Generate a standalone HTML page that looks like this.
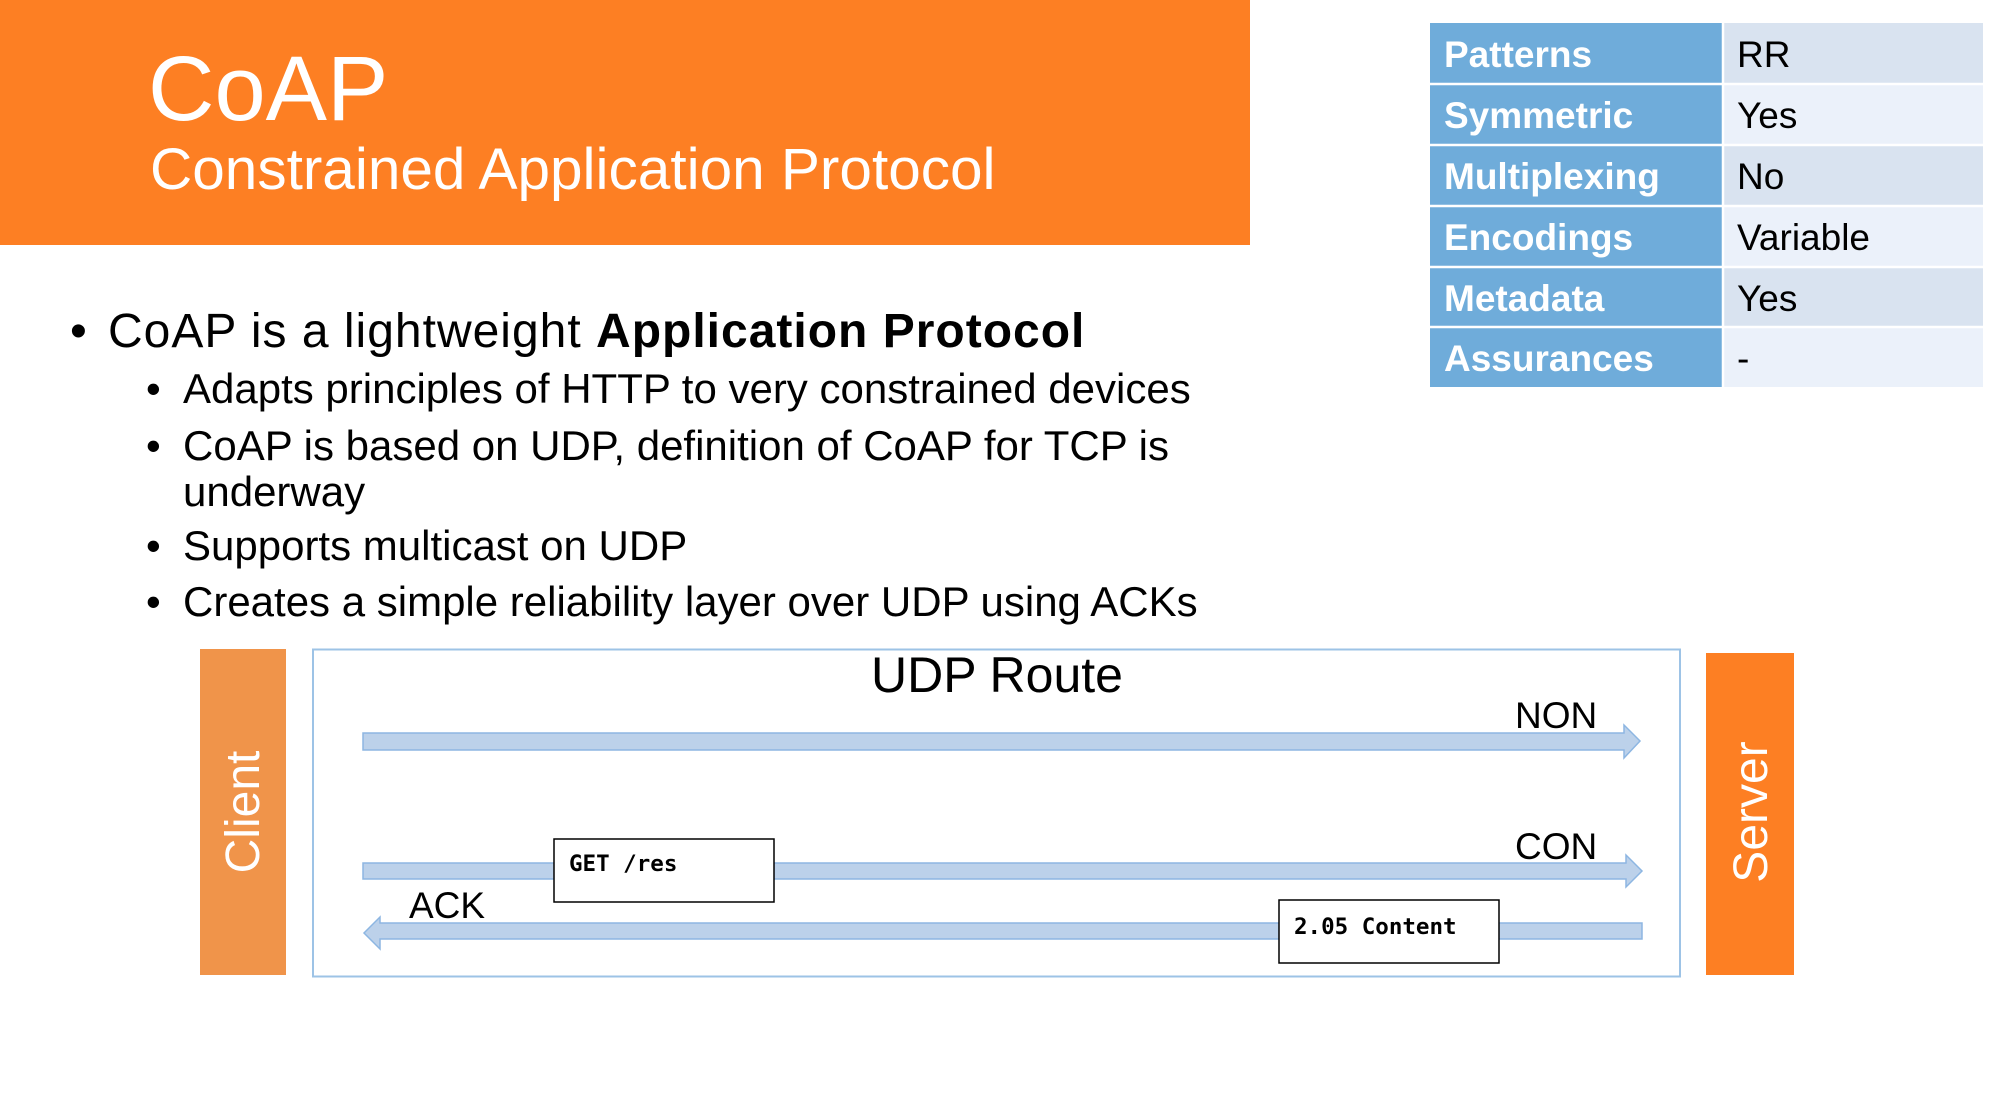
<!DOCTYPE html>
<html><head><meta charset="utf-8"><style>
html,body{margin:0;padding:0;background:#fff;}
body{width:1999px;height:1114px;position:relative;overflow:hidden;font-family:"Liberation Sans",Arial,sans-serif;}
.a{position:absolute;white-space:nowrap;line-height:1;}
</style></head><body>
<div class="a" style="left:0;top:0;width:1250px;height:245px;background:#FD7F23;"></div>
<div class="a" style="left:148px;top:43px;font-size:92px;color:#fff;">CoAP</div>
<div class="a" style="left:150px;top:141px;font-size:58.5px;color:#fff;">Constrained Application Protocol</div>

<div class="a" style="left:70px;top:308px;font-size:48px;">•</div>
<div class="a" style="left:108px;top:308px;font-size:48px;letter-spacing:1px;">CoAP is a lightweight <b>Application Protocol</b></div>
<div class="a" style="left:146px;top:368px;font-size:42px;">•</div>
<div class="a" style="left:183px;top:368px;font-size:42px;">Adapts principles of HTTP to very constrained devices</div>
<div class="a" style="left:146px;top:425px;font-size:42px;">•</div>
<div class="a" style="left:183px;top:425px;font-size:42px;">CoAP is based on UDP, definition of CoAP for TCP is</div>
<div class="a" style="left:183px;top:471px;font-size:42px;">underway</div>
<div class="a" style="left:146px;top:525px;font-size:42px;">•</div>
<div class="a" style="left:183px;top:525px;font-size:42px;">Supports multicast on UDP</div>
<div class="a" style="left:146px;top:581px;font-size:42px;">•</div>
<div class="a" style="left:183px;top:581px;font-size:42px;">Creates a simple reliability layer over UDP using ACKs</div>

<svg class="a" style="left:1430px;top:23px;" width="553" height="364">
<g font-family="Liberation Sans, Arial, sans-serif" font-size="37">
<rect x="0" y="0" width="294" height="364" fill="#6FACDA"/>
<rect x="294" y="0" width="264" height="61" fill="#D9E3F0"/>
<rect x="294" y="61" width="264" height="61" fill="#EBF1FA"/>
<rect x="294" y="122" width="264" height="61" fill="#D9E3F0"/>
<rect x="294" y="183" width="264" height="61" fill="#EBF1FA"/>
<rect x="294" y="244" width="264" height="60" fill="#D9E3F0"/>
<rect x="294" y="304" width="264" height="60" fill="#EBF1FA"/>
<g stroke="#fff" stroke-width="2.5"><line x1="293" y1="0" x2="293" y2="364"/>
<line x1="0" y1="61" x2="558" y2="61"/><line x1="0" y1="122" x2="558" y2="122"/><line x1="0" y1="183" x2="558" y2="183"/><line x1="0" y1="244" x2="558" y2="244"/><line x1="0" y1="304" x2="558" y2="304"/></g>
<g fill="#fff" font-weight="bold">
<text x="14" y="44">Patterns</text><text x="14" y="105">Symmetric</text><text x="14" y="166">Multiplexing</text><text x="14" y="227">Encodings</text><text x="14" y="288">Metadata</text><text x="14" y="348">Assurances</text></g>
<g fill="#000">
<text x="307" y="44">RR</text><text x="307" y="105">Yes</text><text x="307" y="166">No</text><text x="307" y="227">Variable</text><text x="307" y="288">Yes</text><text x="307" y="348">-</text></g>
</g></svg>

<svg class="a" style="left:0;top:0;" width="1999" height="1114">
<rect x="200" y="649" width="86" height="326" fill="#F0944A"/>
<rect x="1706" y="653" width="88" height="322" fill="#FD7F23"/>
<text transform="translate(259,812) rotate(-90)" text-anchor="middle" font-family="Liberation Sans, Arial, sans-serif" font-size="48" fill="#fff">Client</text>
<text transform="translate(1767,812) rotate(-90)" text-anchor="middle" font-family="Liberation Sans, Arial, sans-serif" font-size="48" fill="#fff">Server</text>
<rect x="313" y="649.5" width="1367" height="327" fill="none" stroke="#9DC3E6" stroke-width="2"/>
<g font-family="Liberation Sans, Arial, sans-serif" fill="#000">
<text x="997" y="692" text-anchor="middle" font-size="50">UDP Route</text>
<text x="1515" y="728" font-size="37">NON</text>
<text x="1515" y="859" font-size="37">CON</text>
<text x="409" y="918" font-size="37">ACK</text>
</g>
<g fill="#BCD1EA" stroke="#8DB6E2" stroke-width="1.5">
<polygon points="363,733 1624,733 1624,725 1640,741 1624,758 1624,750 363,750"/>
<polygon points="363,863 1626,863 1626,855 1642,871 1626,887 1626,879 363,879"/>
<polygon points="1642,923 380,923 380,917 364,933 380,949 380,939 1642,939"/>
</g>
<rect x="554" y="839" width="220" height="63" fill="#fff" stroke="#000" stroke-width="1.5"/>
<rect x="1279" y="900" width="220" height="63" fill="#fff" stroke="#000" stroke-width="1.5"/>
<g font-family="DejaVu Sans Mono, Liberation Mono, monospace" font-weight="bold" font-size="22.5" fill="#000">
<text x="569" y="871">GET /res</text>
<text x="1294" y="934">2.05 Content</text>
</g>
</svg>
</body></html>
